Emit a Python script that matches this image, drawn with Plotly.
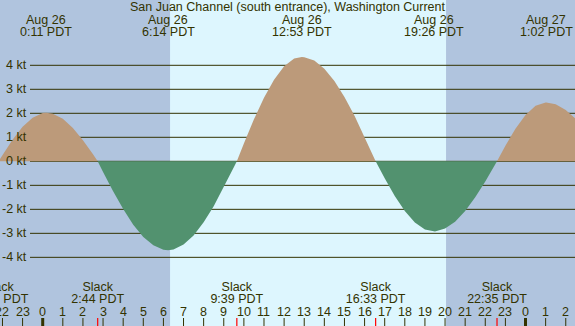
import plotly.graph_objects as go

# ---- data ----
hours = [-2.2, -2.0, -1.5, -1.0, -0.5, 0.0, 0.183, 0.5, 1.0, 1.5, 2.0, 2.5, 2.733,
         3.0, 3.5, 4.0, 4.5, 5.0, 5.5, 6.0, 6.233, 6.5, 7.0, 7.5, 8.0, 8.5, 9.0, 9.5, 9.65,
         10.0, 10.5, 11.0, 11.5, 12.0, 12.5, 12.883, 13.0, 13.5, 14.0, 14.5, 15.0, 15.5, 16.0, 16.55,
         17.0, 17.5, 18.0, 18.5, 19.0, 19.433, 19.5, 20.0, 20.5, 21.0, 21.5, 22.0, 22.583,
         23.0, 23.5, 24.0, 24.5, 25.0, 25.033, 25.5, 26.0, 26.5, 27.0]
speed = [0, 0.27, 0.90, 1.44, 1.82, 2.01, 2.02, 1.98, 1.77, 1.39, 0.88, 0.29, 0,
         -0.44, -1.25, -1.99, -2.64, -3.15, -3.50, -3.68, -3.70, -3.67, -3.47, -3.09, -2.54, -1.87, -1.09, -0.25, 0,
         0.74, 1.75, 2.65, 3.40, 3.96, 4.28, 4.35, 4.34, 4.20, 3.86, 3.35, 2.68, 1.90, 1.02, 0,
         -0.71, -1.44, -2.07, -2.55, -2.84, -2.92, -2.92, -2.80, -2.52, -2.07, -1.50, -0.84, 0,
         0.65, 1.36, 1.93, 2.31, 2.45, 2.45, 2.38, 2.14, 1.76, 1.26]

max_times = [0.183, 6.233, 12.883, 19.433, 25.033]
max_dates = ["Aug 26", "Aug 26", "Aug 26", "Aug 26", "Aug 27"]
max_labels = ["0:11 PDT", "6:14 PDT", "12:53 PDT", "19:26 PDT", "1:02 PDT"]

slack_times = [-2.2, 2.733, 9.65, 16.55, 22.583]
slack_labels = ["21:48 PDT", "2:44 PDT", "9:39 PDT", "16:33 PDT", "22:35 PDT"]

hour_ticks = list(range(-2, 27))
hour_labels = [str(h % 24) for h in hour_ticks]
midnights = [0, 24]

kt_ticks = [4, 3, 2, 1, 0, -1, -2, -3, -4]
kt_labels = [f"{v} kt" for v in kt_ticks]

sunrise = 6.33
sunset = 20.05

title = "San Juan Channel (south entrance), Washington Current"

# ---- style ----
W, H = 575, 326
X_RANGE = [-2.123, 26.46]
Y_RANGE = [-6.86, 6.72]
DAY = "#DDF6FE"
NIGHT = "#B0C4DE"
FLOOD = "#BC9A7A"
EBB = "#52926F"
INK = "#333300"
FONT = "Liberation Sans"
FS = 12.5


def py(p):
    return 1 - p / H


flood = [max(v, 0) for v in speed]
ebb = [min(v, 0) for v in speed]
font = dict(family=FONT, size=FS, color=INK)

fig = go.Figure()
fig.add_trace(go.Scatter(x=hours, y=flood, mode="lines", line=dict(width=0),
                         fill="tozeroy", fillcolor=FLOOD, hoverinfo="skip"))
fig.add_trace(go.Scatter(x=hours, y=ebb, mode="lines", line=dict(width=0),
                         fill="tozeroy", fillcolor=EBB, hoverinfo="skip"))
# slack labels as text traces on a pixel-unit overlay axis (so edge labels are drawn, clipped)
fig.add_trace(go.Scatter(x=slack_times, y=[287.5] * len(slack_times), yaxis="y2",
                         mode="text", text=["Slack"] * len(slack_times),
                         textposition="middle center", textfont=font,
                         hoverinfo="skip", cliponaxis=True))
fig.add_trace(go.Scatter(x=slack_times, y=[299.5] * len(slack_times), yaxis="y2",
                         mode="text", text=slack_labels,
                         textposition="middle center", textfont=font,
                         hoverinfo="skip", cliponaxis=True))

shapes = []
# night shading
shapes.append(dict(type="rect", xref="x", yref="paper", x0=X_RANGE[0] - 1, x1=sunrise,
                   y0=0, y1=1, fillcolor=NIGHT, line=dict(width=0), layer="below"))
shapes.append(dict(type="rect", xref="x", yref="paper", x0=sunset, x1=X_RANGE[1] + 1,
                   y0=0, y1=1, fillcolor=NIGHT, line=dict(width=0), layer="below"))
# grid lines
for v in kt_ticks:
    shapes.append(dict(type="line", xref="paper", yref="y", x0=30 / W, x1=1, y0=v, y1=v,
                       line=dict(color=INK, width=1), layer="below"))
# hour ticks
for h in hour_ticks:
    shapes.append(dict(type="line", xref="x", yref="paper", x0=h, x1=h, y0=0, y1=8 / H,
                       line=dict(color=INK, width=3 if h in midnights else 1)))
for s in slack_times:
    shapes.append(dict(type="line", xref="x", yref="paper", x0=s, x1=s, y0=0, y1=8 / H,
                       line=dict(color="#FF0000", width=1.2)))

ann = []
ann.append(dict(text=title, xref="paper", yref="paper", x=0.5, y=py(7.5),
                showarrow=False, font=font, xanchor="center", yanchor="middle"))
for t, d, l in zip(max_times, max_dates, max_labels):
    ann.append(dict(text=d, xref="x", yref="paper", x=t, y=py(20.5), showarrow=False,
                    font=font, xanchor="center", yanchor="middle"))
    ann.append(dict(text=l, xref="x", yref="paper", x=t, y=py(32.5), showarrow=False,
                    font=font, xanchor="center", yanchor="middle"))
for h, l in zip(hour_ticks, hour_labels):
    ann.append(dict(text=l, xref="x", yref="paper", x=h, y=py(312), showarrow=False,
                    font=font, xanchor="center", yanchor="middle"))
for v, l in zip(kt_ticks, kt_labels):
    ann.append(dict(text=l, xref="paper", yref="y", x=28.5 / W, y=v, showarrow=False,
                    font=font, xanchor="right", yanchor="middle"))

fig.update_layout(
    width=W, height=H, margin=dict(l=0, r=0, t=0, b=0),
    paper_bgcolor=DAY, plot_bgcolor=DAY, showlegend=False,
    xaxis=dict(range=X_RANGE, visible=False, fixedrange=True),
    yaxis=dict(range=Y_RANGE, visible=False, fixedrange=True),
    yaxis2=dict(range=[H, 0], overlaying="y", visible=False, fixedrange=True),
    shapes=shapes, annotations=ann,
)
fig.write_html("out.html", config={"displayModeBar": False},
               post_script="document.body.style.margin='0';document.body.style.overflow='hidden';")
